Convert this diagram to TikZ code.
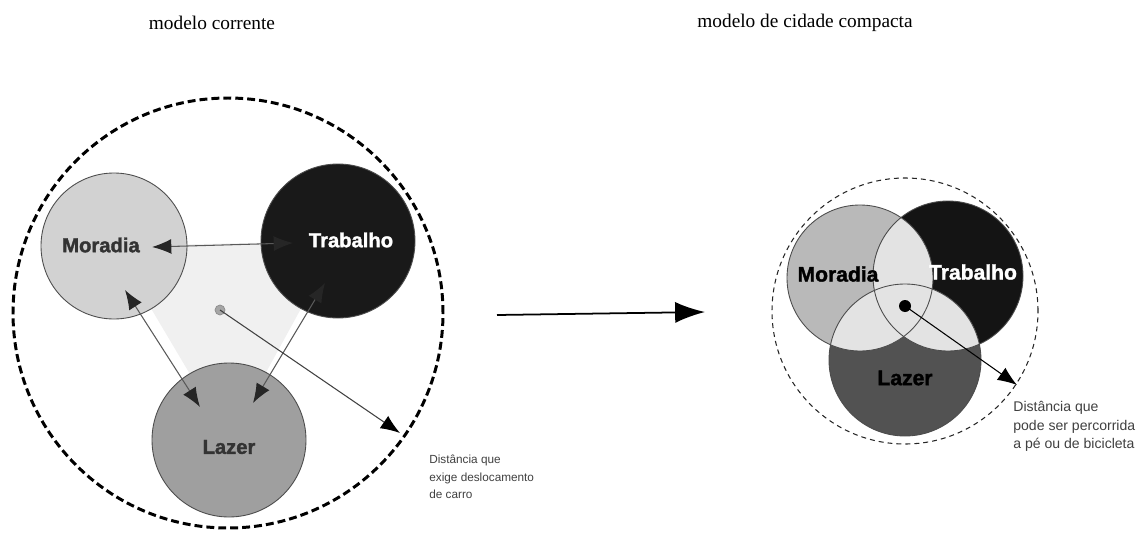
\documentclass[tikz,border=0pt]{standalone}
\usepackage{fontspec}
\setmainfont{Liberation Serif}
\newfontfamily\rotulo[BoldFeatures={FakeBold=1.6}]{Liberation Sans}
\usetikzlibrary{arrows.meta}
\tikzset{
    zona/.style={draw=black!70, line width=0.5pt}, % contorno das zonas
    nome/.style={font=\rotulo\bfseries\fontsize{11.5}{13}\selectfont},
    nota/.style={font=\rotulo\fontsize{6.7}{9.8}\selectfont, text=black!75,
        align=left, anchor=north west, inner sep=0pt},
    liga/.style={black!65, line width=0.6pt,
        {Latex[length=11pt,width=8.5pt,color=black!85]}-{Latex[length=11pt,width=8.5pt,color=black!85]}},
    raio/.style={black!75, line width=0.6pt, -{Latex[length=11pt,width=8.5pt,color=black]}},
}

\begin{document}
\begin{tikzpicture}[
                x=0.02cm, y=0.02cm, % 1 px da imagem
            ]
            \useasboundingbox (0,0) rectangle (1143,-534);
            % títulos
            \node (tituloA) at (212,-23) {\fontsize{11}{13}\selectfont modelo corrente};
            \node (tituloB) at (805,-23) {\fontsize{11}{13}\selectfont modelo de cidade compacta};

            % ---- modelo corrente ----
            \coordinate (O1) at (228,-313);
            \coordinate (M1) at (114,-246);
            \coordinate (T1) at (338,-241);
            \coordinate (L1) at (229,-440);
            \fill[gray!12] (M1) -- (T1) -- (L1) -- cycle;
            \draw[black, line width=1.7pt, dash pattern=on 4.5pt off 2.3pt] (O1) circle[radius=215];
            \filldraw[zona, fill=gray!35] (M1) circle[radius=73];
            \filldraw[zona, fill=black!90] (T1) circle[radius=77];
            \filldraw[zona, fill=gray!75] (L1) circle[radius=77];
            \node[nome, text=black!80] (moradiaA) at (101,-245) {Moradia};
            \node[nome, text=white] (trabalhoA) at (351,-240) {Trabalho};
            \node[nome, text=black!80] (lazerA) at (229,-447) {Lazer};

            % ligações entre zonas
            \coordinate (mt) at (152,-247);
            \coordinate (tm) at (293,-243);
            \coordinate (ml) at (125,-290);
            \coordinate (lm) at (200,-407);
            \coordinate (tl) at (325,-283);
            \coordinate (lt) at (253,-403);
            \draw[liga] (mt) -- (tm);
            \draw[liga] (ml) -- (lm);
            \draw[liga] (tl) -- (lt);

            % distância
            \filldraw[gray!70, draw=gray!90] (220,-310) coordinate (centroA) circle[radius=5];
            \coordinate (bordaA) at (400,-433);
            \draw[raio] (centroA) -- (bordaA);
            \node[nota] (notaA) at (429,-455) {Distância que\\exige deslocamento\\de carro};

            % seta do meio
            \coordinate (de) at (497,-315);
            \coordinate (para) at (705,-312);
            \draw[black, line width=1pt, -{Latex[length=17pt,width=12pt]}] (de) -- (para);

            % ---- modelo de cidade compacta ----
            \coordinate (O2) at (905,-311);
            \coordinate (M2) at (860,-278);
            \coordinate (T2) at (948,-276);
            \coordinate (L2) at (905,-360);
            \draw[black!85, line width=0.6pt, dash pattern=on 2.8pt off 2.3pt] (O2) circle[radius=133];
            \fill[gray!55] (M2) circle[radius=73];
            \fill[black!92] (T2) circle[radius=75];
            \fill[black!68] (L2) circle[radius=76];
            % sobreposições
            \begin{scope}
                \clip (M2) circle[radius=73];
                \fill[gray!22] (T2) circle[radius=75];
                \fill[gray!22] (L2) circle[radius=76];
            \end{scope}
            \begin{scope}
                \clip (T2) circle[radius=75];
                \fill[gray!22] (L2) circle[radius=76];
            \end{scope}
            \draw[zona] (M2) circle[radius=73];
            \draw[zona] (T2) circle[radius=75];
            \draw[zona] (L2) circle[radius=76];
            \node[nome, text=black, font=\rotulo\bfseries\fontsize{12}{14}\selectfont] (moradiaB) at (838,-274) {Moradia};
            \node[nome, text=white, font=\rotulo\bfseries\fontsize{12}{14}\selectfont] (trabalhoB) at (973,-272) {Trabalho};
            \node[nome, text=black, font=\rotulo\bfseries\fontsize{12}{14}\selectfont] (lazerB) at (905,-378) {Lazer};

            % distância
            \fill[black] (905,-306) coordinate (centroB) circle[radius=6];
            \coordinate (bordaB) at (1017,-385);
            \draw[raio, black] (centroB) -- (bordaB);
            \node[nota, font=\rotulo\fontsize{8}{10.5}\selectfont] (notaB) at (1013,-401) {Distância que\\pode ser percorrida\\a pé ou de bicicleta};
            \end{tikzpicture}
\end{document}
